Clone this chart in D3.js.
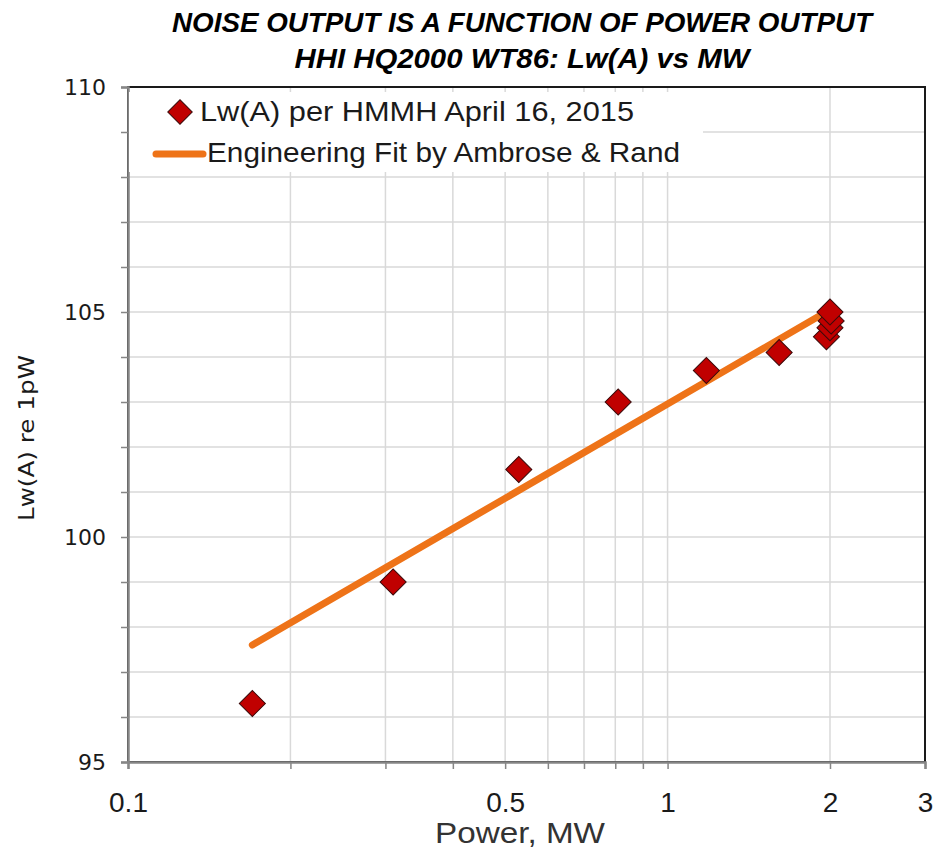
<!DOCTYPE html>
<html>
<head>
<meta charset="utf-8">
<script src="https://cdn.jsdelivr.net/npm/d3@7"></script>
<style>
  body { margin: 0; background: #fff; }
  svg { display: block; }
</style>
</head>
<body>
<script>
// measured points (HMMH report) and the engineering fit line
const powerMW = [0.17, 0.31, 0.53, 0.81, 1.18, 1.61, 1.97, 2.0, 2.01, 2.0];
const lwA = [96.3, 99.0, 101.5, 103.0, 103.7, 104.1, 104.45, 104.65, 104.8, 105.0];
const fitPower = [0.17, 2.0];
const fitLw = [97.6, 105.05];

const xTickLabels = [0.1, 0.5, 1, 2, 3];
const xMinorTicks = [0.1, 0.2, 0.3, 0.4, 0.5, 0.6, 0.7, 0.8, 0.9, 1, 2, 3];
const xGridValues = [0.2, 0.3, 0.4, 0.5, 0.6, 0.7, 0.8, 0.9, 1, 2];
const yTickLabels = [95, 100, 105, 110];

const titleLines = ['NOISE OUTPUT IS A FUNCTION OF POWER OUTPUT', 'HHI HQ2000 WT86: Lw(A) vs MW'];
const legendLabels = ['Lw(A) per HMMH April 16, 2015', 'Engineering Fit by Ambrose & Rand'];

const width = 935, height = 849;
const plotLeft = 128, plotRight = 925, plotTop = 87, plotBottom = 762;

const svg = d3.select('body').append('svg')
  .attr('width', width)
  .attr('height', height);

const x = d3.scaleLog().domain([0.1, 3]).range([plotLeft, plotRight]);
const y = d3.scaleLinear().domain([95, 110]).range([plotBottom, plotTop]);

const narrow = '"Liberation Sans Narrow", "Liberation Sans", Arial, sans-serif';
const verdana = '"DejaVu Sans", Verdana, sans-serif';
const orange = '#EE7318';

// gridlines
svg.append('g')
  .selectAll('line')
  .data(d3.range(96, 110))
  .enter().append('line')
  .attr('x1', plotLeft).attr('x2', plotRight)
  .attr('y1', d => y(d)).attr('y2', d => y(d))
  .attr('stroke', '#d9d9d9').attr('stroke-width', 1.5);

svg.append('g')
  .selectAll('line')
  .data(xGridValues)
  .enter().append('line')
  .attr('x1', d => x(d)).attr('x2', d => x(d))
  .attr('y1', plotTop).attr('y2', plotBottom)
  .attr('stroke', '#d9d9d9').attr('stroke-width', 1.5);

// frame
svg.append('rect')
  .attr('x', plotLeft).attr('y', plotTop)
  .attr('width', plotRight - plotLeft).attr('height', plotBottom - plotTop)
  .attr('fill', 'none').attr('stroke', '#1a1a1a').attr('stroke-width', 2);

// y axis
const yAxis = d3.axisLeft(y)
  .tickValues(d3.range(95, 111))
  .tickSize(7)
  .tickFormat(d => yTickLabels.includes(d) ? d : '');
const gy = svg.append('g')
  .attr('transform', `translate(${plotLeft},0)`)
  .attr('font-size', 22)
  .attr('font-family', verdana)
  .call(yAxis);
gy.select('.domain').attr('stroke', '#868686').attr('stroke-width', 2.5);
gy.selectAll('.tick line').attr('stroke', '#868686').attr('stroke-width', 1.5);
gy.selectAll('.tick text')
  .attr('x', -22)
  .style('font-family', verdana)
  .style('font-size', '22px')
  .attr('fill', '#1a1a1a');

// x axis
const xAxis = d3.axisBottom(x)
  .tickValues(xMinorTicks)
  .tickSize(7)
  .tickFormat(d => xTickLabels.includes(d) ? d : '');
const gx = svg.append('g')
  .attr('transform', `translate(0,${plotBottom})`)
  .call(xAxis);
gx.select('.domain').attr('stroke', '#868686').attr('stroke-width', 2.5);
gx.selectAll('.tick line').attr('stroke', '#868686').attr('stroke-width', 1.5);
gx.selectAll('.tick text')
  .attr('y', 30)
  .style('font-family', narrow)
  .style('font-size', '28px')
  .attr('fill', '#1a1a1a');

// axis titles
svg.append('text')
  .attr('x', 520).attr('y', 843)
  .attr('text-anchor', 'middle')
  .attr('textLength', 170)
  .attr('lengthAdjust', 'spacingAndGlyphs')
  .style('font-family', narrow)
  .style('font-size', '29px')
  .attr('fill', '#333')
  .text('Power, MW');

svg.append('text')
  .attr('transform', 'translate(34,438) rotate(-90)')
  .attr('text-anchor', 'middle')
  .attr('textLength', 166)
  .attr('lengthAdjust', 'spacingAndGlyphs')
  .style('font-family', verdana)
  .style('font-size', '22px')
  .attr('fill', '#1a1a1a')
  .text('Lw(A) re 1pW');

// title
svg.append('g')
  .selectAll('text')
  .data(titleLines)
  .enter().append('text')
  .attr('x', 522)
  .attr('y', (d, i) => 32 + i * 36)
  .attr('text-anchor', 'middle')
  .attr('textLength', (d, i) => i === 0 ? 700 : 455)
  .attr('lengthAdjust', 'spacingAndGlyphs')
  .style('font-family', narrow)
  .style('font-weight', 'bold')
  .style('font-style', 'italic')
  .style('font-size', '28px')
  .attr('fill', '#000')
  .text(d => d);

// legend
const legend = svg.append('g');
legend.append('rect')
  .attr('x', plotLeft + 1).attr('y', 92)
  .attr('width', 702 - plotLeft).attr('height', 80)
  .attr('fill', '#fff');

legend.append('path')
  .attr('d', d3.symbol().type(d3.symbolSquare).size(300))
  .attr('transform', 'translate(180,112) rotate(45)')
  .attr('fill', '#C00000')
  .attr('stroke', '#3b0a0a')
  .attr('stroke-width', 1);

legend.append('line')
  .attr('x1', 156).attr('x2', 203)
  .attr('y1', 154).attr('y2', 154)
  .attr('stroke', orange)
  .attr('stroke-width', 7)
  .attr('stroke-linecap', 'round');

legend.selectAll('text')
  .data(legendLabels)
  .enter().append('text')
  .attr('x', (d, i) => i === 0 ? 200 : 207)
  .attr('y', (d, i) => i === 0 ? 121 : 162)
  .attr('textLength', (d, i) => i === 0 ? 434 : 473)
  .attr('lengthAdjust', 'spacingAndGlyphs')
  .style('font-family', narrow)
  .style('font-size', '28px')
  .attr('fill', '#1a1a1a')
  .text(d => d);

// fit line
const fitData = fitPower.map((p, i) => [p, fitLw[i]]);
svg.append('path')
  .datum(fitData)
  .attr('d', d3.line().x(d => x(d[0])).y(d => y(d[1])))
  .attr('fill', 'none')
  .attr('stroke', orange)
  .attr('stroke-width', 7)
  .attr('stroke-linecap', 'round');

// measured points
const points = powerMW.map((p, i) => [p, lwA[i]]);
svg.append('g')
  .selectAll('path')
  .data(points)
  .enter().append('path')
  .attr('d', d3.symbol().type(d3.symbolSquare).size(340))
  .attr('transform', d => `translate(${x(d[0])},${y(d[1])}) rotate(45)`)
  .attr('fill', '#C00000')
  .attr('stroke', '#3b0a0a')
  .attr('stroke-width', 1);
</script>
</body>
</html>
